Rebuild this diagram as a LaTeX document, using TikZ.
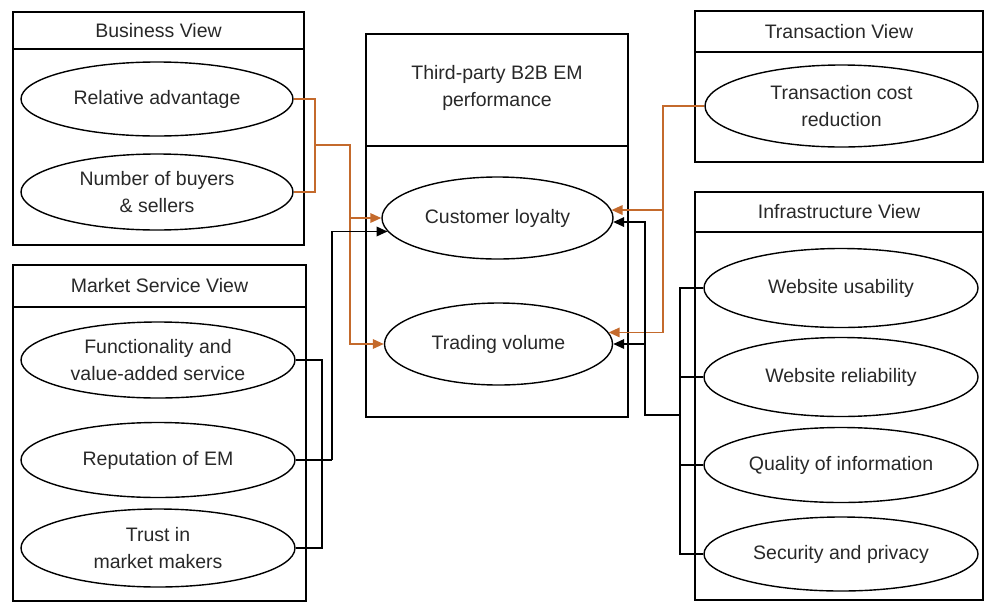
\documentclass[tikz,border=0pt]{standalone}
\usepackage{fontspec}
\setmainfont{Liberation Sans}
\usetikzlibrary{shapes.geometric,arrows.meta}
\definecolor{oc}{RGB}{196,106,44}
\definecolor{tc}{RGB}{40,40,40}
\begin{document}
\begin{tikzpicture}[x=1pt,y=-1pt,
  every node/.style={font=\fontsize{19.5}{26.5}\selectfont, text=tc},
  ell/.style={draw, ellipse, line width=1.4pt, inner sep=0pt, align=center},
  frame/.style={draw, line width=1.8pt},
  ttl/.style={align=center},
  conn/.style={line width=1.8pt},
  oconn/.style={conn, draw=oc},
  tip/.style={-{Triangle[length=11pt,width=9.5pt]}}
]
\useasboundingbox (0,0) rectangle (985,603);

% ---- frames ----
\draw[frame] (13,12) rectangle (304,245);
\draw[frame] (13,49) -- (304,49);
\node[ttl] (bvt) at (158.5,30.5) {Business View};

\draw[frame] (13,265) rectangle (306,601);
\draw[frame] (13,307) -- (306,307);
\node[ttl] (mvt) at (159.5,286) {Market Service View};

\draw[frame] (366,34) rectangle (628,417);
\draw[frame] (366,146) -- (628,146);
\node[ttl] (cvt) at (497,88) {Third-party B2B EM\\performance};

\draw[frame] (695,11) rectangle (983,162);
\draw[frame] (695,52) -- (983,52);
\node[ttl] (tvt) at (839,31.5) {Transaction View};

\draw[frame] (695,192) rectangle (983,600);
\draw[frame] (695,232) -- (983,232);
\node[ttl] (ivt) at (839,212) {Infrastructure View};

% ---- ellipses ----
\node[ell, minimum width=272pt, minimum height=74pt] (RA) at (157,99) {Relative advantage};
\node[ell, minimum width=272pt, minimum height=76pt] (NB) at (157,192) {Number of buyers\\\& sellers};

\node[ell, minimum width=274pt, minimum height=76pt] (FVS) at (158,360) {Functionality and\\value-added service};
\node[ell, minimum width=274pt, minimum height=75pt] (RE) at (158,460) {Reputation of EM};
\node[ell, minimum width=274pt, minimum height=78pt] (TMM) at (158,548) {Trust in\\market makers};

\node[ell, minimum width=231pt, minimum height=82pt] (CL) at (497.5,218) {Customer loyalty};
\node[ell, minimum width=228pt, minimum height=82pt] (TV) at (498.5,344) {Trading volume};

\node[ell, minimum width=273pt, minimum height=82pt] (TC) at (841.5,106) {Transaction cost\\reduction};

\node[ell, minimum width=274pt, minimum height=79pt] (WU) at (841,288) {Website usability};
\node[ell, minimum width=274pt, minimum height=79pt] (WR) at (841,377) {Website reliability};
\node[ell, minimum width=274pt, minimum height=75pt] (QI) at (841,465) {Quality of information};
\node[ell, minimum width=274pt, minimum height=74pt] (SP) at (841,554) {Security and privacy};

% ---- business view connectors (orange) ----
\coordinate (bb) at (315,145);
\coordinate (bd) at (350,145);
\draw[oconn] (RA.east) -| (bb) |- (NB.east);
\draw[oconn, tip] (bb) -- (bd) |- (CL.west);
\draw[oconn, tip] (bd) |- (TV.west);

% ---- transaction view connectors (orange) ----
\coordinate (tb) at (663,106);
\draw[oconn, tip] (TC.west) -- (tb) |- (CL.4);
\draw[oconn, tip] (tb) |- (TV.6);

% ---- market service view connectors (black) ----
\coordinate (mb) at (322,460);
\coordinate (md) at (332,460);
\draw[conn] (FVS.east) -| (mb) |- (TMM.east);
\draw[conn] (RE.east) -- (md);
\draw[conn, tip] (md) |- (CL.187);

% ---- infrastructure view connectors (black) ----
\coordinate (ib) at (680,415);
\coordinate (id) at (645,415);
\draw[conn] (WU.west) -| (ib) |- (SP.west);
\draw[conn] (WR.west) -| (ib);
\draw[conn] (QI.west) -| (ib);
\draw[conn, tip] (ib) -- (id) |- (CL.-2);
\draw[conn, tip] (id) |- (TV.east);
\end{tikzpicture}
\end{document}
